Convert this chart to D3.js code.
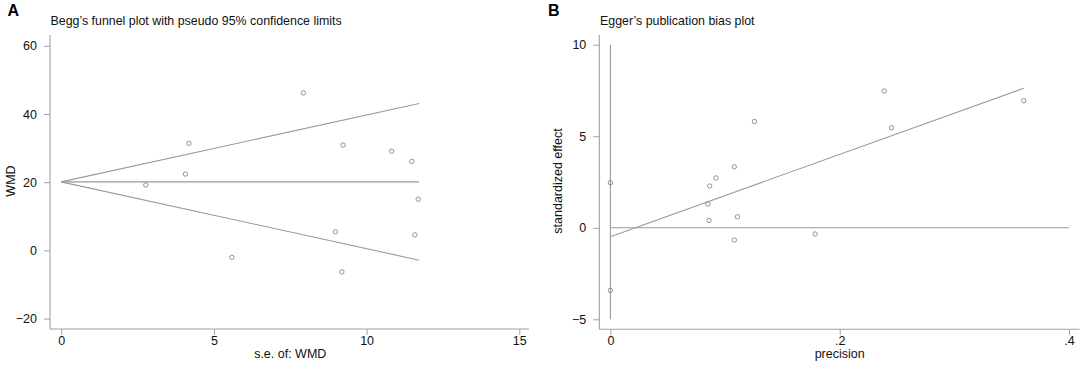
<!DOCTYPE html>
<html>
<head>
<meta charset="utf-8">
<script src="https://cdn.jsdelivr.net/npm/d3@7"></script>
<style>
  html, body { margin: 0; padding: 0; background: #fff; }
  svg { display: block; font-family: "Liberation Sans", Arial, Helvetica, sans-serif; }
</style>
</head>
<body>
<svg id="chart" width="1084" height="365"></svg>
<script>
// ---- Data: Panel A (Begg's funnel plot) ----
const beggSE  = [7.93, 4.18, 4.07, 9.23, 10.82, 11.48, 2.77, 11.69, 8.98, 11.58, 5.59, 9.19];
const beggWMD = [46.2, 31.4, 22.4, 30.9, 29.1, 26.1, 19.2, 15.0, 5.45, 4.57, -2.05, -6.3];
const beggPooled = 20.1;
const beggMaxSE = 11.72;
const beggXTicks = [0, 5, 10, 15];
const beggYTicks = [-20, 0, 20, 40, 60];

// ---- Data: Panel B (Egger's publication bias plot) ----
const eggerPrecision = [0.2388, 0.3605, 0.1256, 0.2452, 0.1081, 0.0920, 0, 0.0866, 0.0850, 0.1108, 0.0860, 0.1081, 0.1786, 0];
const eggerStdEffect = [7.47, 6.94, 5.81, 5.46, 3.33, 2.72, 2.46, 2.28, 1.30, 0.60, 0.40, -0.67, -0.34, -3.42];
const eggerFitStart = [0, -0.49];
const eggerFitEnd = [0.3605, 7.62];
const eggerXTicks = [0, 0.2, 0.4];
const eggerXTickLabels = ["0", ".2", ".4"];
const eggerYTicks = [-5, 0, 5, 10];

const svg = d3.select("#chart");
const axisColor = "#a0a0a0";
const lineColor = "#9a9a9a";
const markColor = "#888";
const fontFam = "Liberation Sans, Arial, sans-serif";

function drawAxes(g, x, y, opts) {
  g.append("line").attr("x1", opts.yAxisX).attr("x2", opts.yAxisX)
    .attr("y1", opts.top).attr("y2", opts.xAxisY)
    .attr("stroke", axisColor).attr("stroke-width", 1.1);
  g.append("line").attr("x1", opts.yAxisX).attr("x2", opts.right)
    .attr("y1", opts.xAxisY).attr("y2", opts.xAxisY)
    .attr("stroke", axisColor).attr("stroke-width", 1.1);

  const ya = d3.axisLeft(y).tickValues(opts.yTicks).tickSize(6).tickPadding(7)
    .tickFormat(d3.format("d"));
  const yg = g.append("g").attr("transform", `translate(${opts.yAxisX},0)`).call(ya);
  yg.select(".domain").remove();
  yg.selectAll(".tick line").attr("stroke", axisColor);
  yg.selectAll(".tick text").attr("fill", "#111").style("font-size", "12.5px")
    .style("font-family", fontFam);

  const xa = d3.axisBottom(x).tickValues(opts.xTicks).tickSize(6).tickPadding(1)
    .tickFormat((d, i) => opts.xLabels ? opts.xLabels[i] : d3.format("d")(d));
  const xg = g.append("g").attr("transform", `translate(0,${opts.xAxisY})`).call(xa);
  xg.select(".domain").remove();
  xg.selectAll(".tick line").attr("stroke", axisColor);
  xg.selectAll(".tick text").attr("fill", "#111").style("font-size", "12.5px")
    .style("font-family", fontFam);
}

// ================= Panel A =================
const gA = svg.append("g");
const xA = d3.scaleLinear().domain([0, 15]).range([61.2, 519.3]);
const yA = d3.scaleLinear().domain([-20, 60]).range([318.6, 45.8]);

drawAxes(gA, xA, yA, {
  yAxisX: 50, top: 35, xAxisY: 329, right: 529,
  yTicks: beggYTicks, xTicks: beggXTicks
});

const lineA = d3.line().x(d => xA(d[0])).y(d => yA(d[1]));
const funnelUpper = [[0, beggPooled], [beggMaxSE, beggPooled + 1.96 * beggMaxSE]];
const funnelLower = [[0, beggPooled], [beggMaxSE, beggPooled - 1.96 * beggMaxSE]];
const funnelMid = [[0, beggPooled], [beggMaxSE, beggPooled]];
[funnelUpper, funnelLower, funnelMid].forEach(seg => {
  gA.append("path").attr("d", lineA(seg)).attr("fill", "none")
    .attr("stroke", lineColor).attr("stroke-width", 1.1);
});

gA.selectAll("circle.pt").data(beggSE.map((s, i) => [s, beggWMD[i]]))
  .join("circle").attr("class", "pt")
  .attr("cx", d => xA(d[0])).attr("cy", d => yA(d[1])).attr("r", 2.2)
  .attr("fill", "none").attr("stroke", markColor).attr("stroke-width", 0.9);

gA.append("text").attr("x", 7.5).attr("y", 15.5).text("A")
  .style("font-size", "16px").style("font-weight", "bold").attr("fill", "#000");
gA.append("text").attr("x", 50.5).attr("y", 25)
  .text("Begg\u2019s funnel plot with pseudo 95% confidence limits")
  .style("font-size", "12.4px").attr("fill", "#111");
gA.append("text").attr("x", (xA(0) + xA(15)) / 2).attr("y", 358)
  .attr("text-anchor", "middle").text("s.e. of: WMD")
  .style("font-size", "12.5px").attr("fill", "#111");
gA.append("text").attr("transform", "translate(15,181) rotate(-90)")
  .attr("text-anchor", "middle").text("WMD")
  .style("font-size", "12.5px").attr("fill", "#111");

// ================= Panel B =================
const gB = svg.append("g");
const xB = d3.scaleLinear().domain([0, 0.4]).range([610.4, 1069]);
const yB = d3.scaleLinear().domain([-5, 10]).range([319.3, 44.7]);

drawAxes(gB, xB, yB, {
  yAxisX: 599.3, top: 35, xAxisY: 329.3, right: 1079.6,
  yTicks: eggerYTicks, xTicks: eggerXTicks, xLabels: eggerXTickLabels
});

const lineB = d3.line().x(d => xB(d[0])).y(d => yB(d[1]));
gB.append("path").attr("d", lineB([[0, 10], [0, -5]])).attr("fill", "none")
  .attr("stroke", lineColor).attr("stroke-width", 1.1);
gB.append("path").attr("d", lineB([[0, 0], [0.4, 0]])).attr("fill", "none")
  .attr("stroke", lineColor).attr("stroke-width", 1.1);
gB.append("path").attr("d", lineB([eggerFitStart, eggerFitEnd])).attr("fill", "none")
  .attr("stroke", lineColor).attr("stroke-width", 1.1);

gB.selectAll("circle.pt").data(eggerPrecision.map((p, i) => [p, eggerStdEffect[i]]))
  .join("circle").attr("class", "pt")
  .attr("cx", d => xB(d[0])).attr("cy", d => yB(d[1])).attr("r", 2.2)
  .attr("fill", "none").attr("stroke", markColor).attr("stroke-width", 0.9);

gB.append("text").attr("x", 548).attr("y", 15.5).text("B")
  .style("font-size", "16px").style("font-weight", "bold").attr("fill", "#000");
gB.append("text").attr("x", 600).attr("y", 25)
  .text("Egger\u2019s publication bias plot")
  .style("font-size", "12.4px").attr("fill", "#111");
gB.append("text").attr("x", (xB(0) + xB(0.4)) / 2).attr("y", 358)
  .attr("text-anchor", "middle").text("precision")
  .style("font-size", "12.5px").attr("fill", "#111");
gB.append("text").attr("transform", "translate(562,181) rotate(-90)")
  .attr("text-anchor", "middle").text("standardized effect")
  .style("font-size", "12.5px").attr("fill", "#111");
</script>
</body>
</html>
